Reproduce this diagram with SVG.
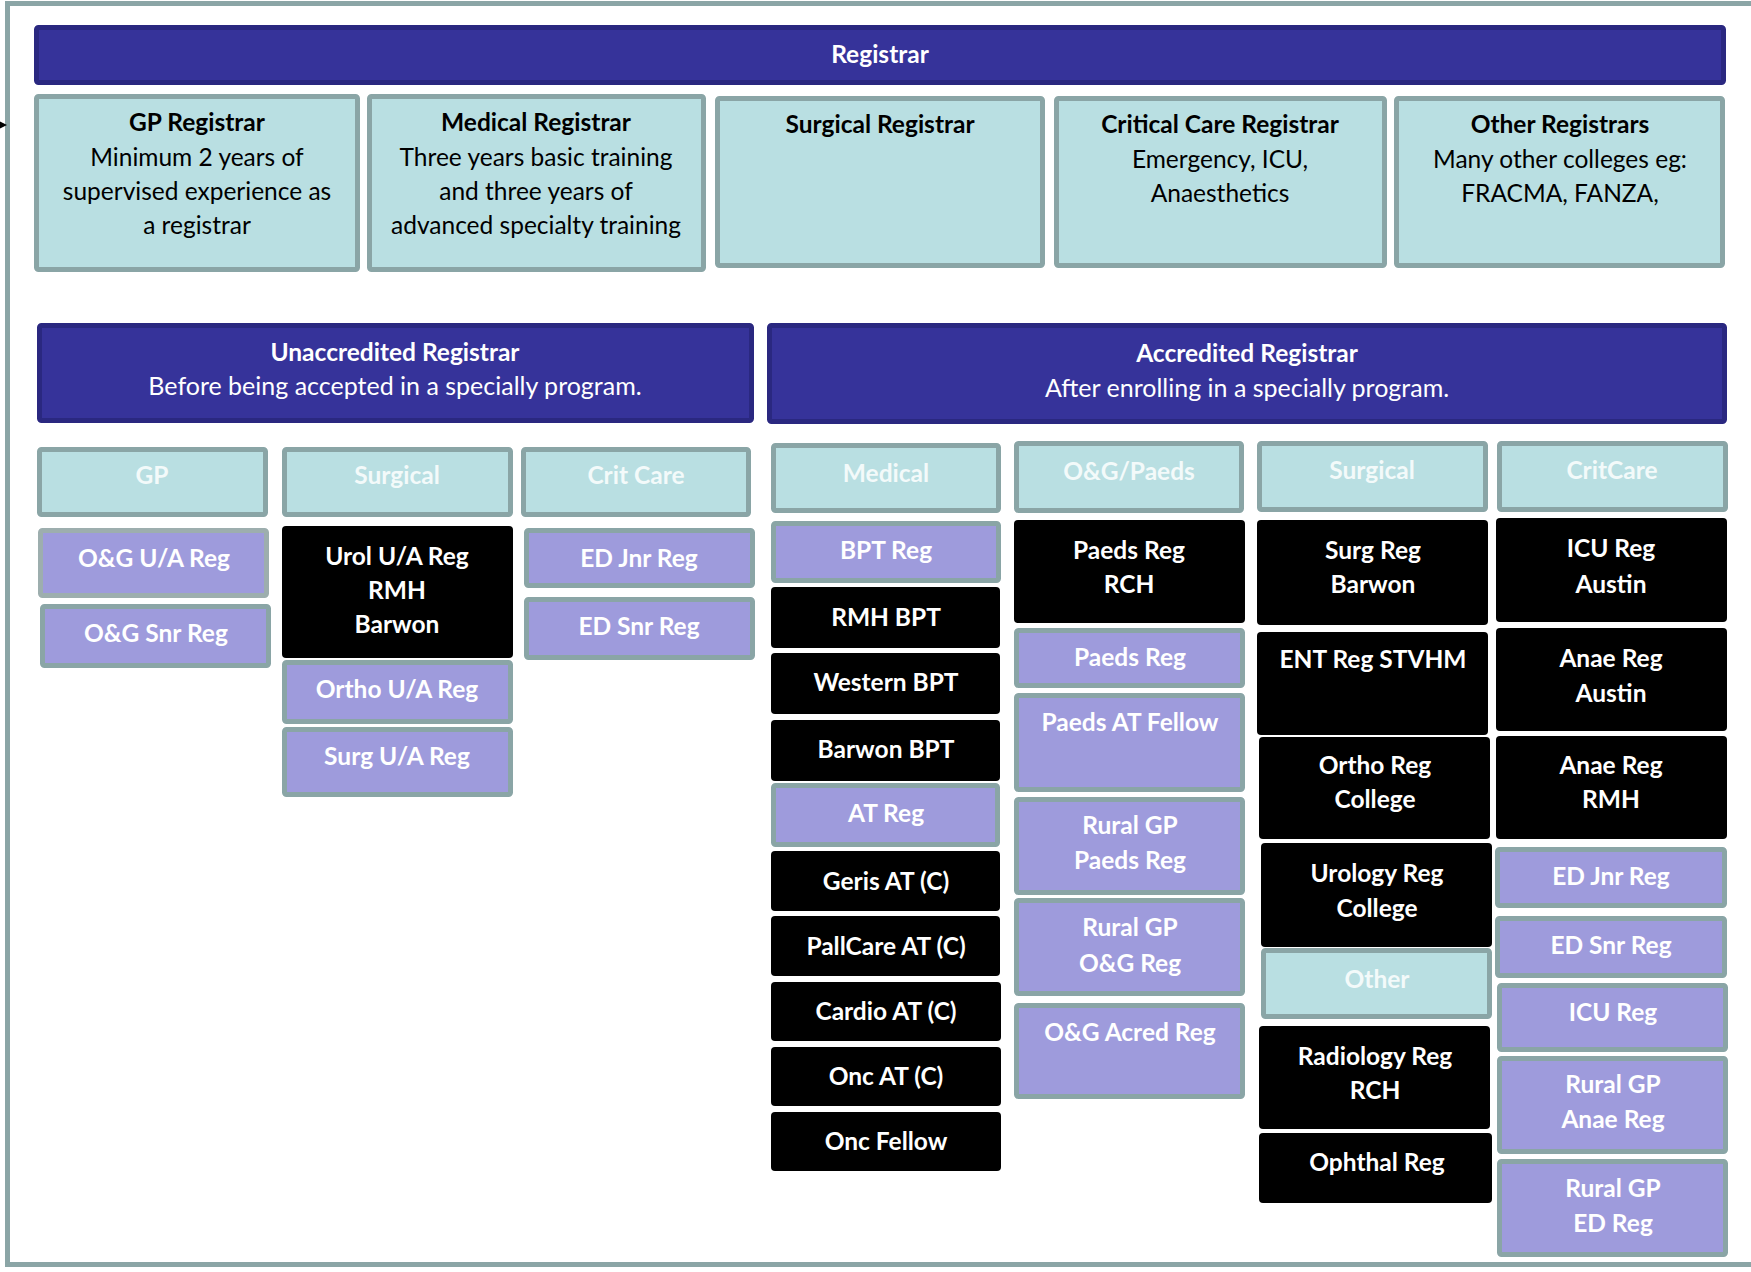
<svg xmlns="http://www.w3.org/2000/svg" width="1751" height="1272" viewBox="0 0 1751 1272">
<style>
.navy{fill:#36339A;stroke:#2A2880;stroke-width:5}
.teal{fill:#B9DFE2;stroke:#8AA5A6;stroke-width:5}
.purp{fill:#9E9BDC;stroke:#8AA5A6;stroke-width:5}
.purpg{fill:#9E9BDC;stroke:#9DAEAE;stroke-width:5}
.blk{fill:#000000}
text{font-family:Lato,"Open Sans","Liberation Sans",sans-serif;text-anchor:middle}
.tt{font-size:24.5px;font-weight:bold;fill:#000}
.tb{font-size:24.5px;fill:#000}
.wt{font-size:24.5px;font-weight:bold;fill:#fff}
.wb{font-size:25px;fill:#fff}
.n{font-size:24.5px;font-weight:bold;fill:#fff}
.h{font-size:24.5px;font-weight:bold;fill:#F3FAFA}
</style>
<rect x="7.5" y="3.5" width="1760" height="1261" fill="#fff" stroke="#8BA5A6" stroke-width="5"/>
<g id="connectors">
<polygon points="0,121.5 7,125 0,128.5" fill="#000"/>
</g>

<g id="registrar"><rect class="navy" x="36.5" y="27.5" width="1687" height="55" rx="2"/><text class="wt" x="880" y="63">Registrar</text></g>

<g id="gp-registrar"><rect class="teal" x="36.5" y="96.5" width="321" height="173" rx="2"/>
<text class="tt" x="197" y="131">GP Registrar</text>
<text class="tb" x="197" y="166">Minimum 2 years of</text>
<text class="tb" x="197" y="200">supervised experience as</text>
<text class="tb" x="197" y="234">a registrar</text></g>
<g id="medical-registrar"><rect class="teal" x="369.5" y="96.5" width="334" height="173" rx="2"/>
<text class="tt" x="536" y="131">Medical Registrar</text>
<text class="tb" x="536" y="166">Three years basic training</text>
<text class="tb" x="536" y="200">and three years of</text>
<text class="tb" x="536" y="234">advanced specialty training</text></g>
<g id="surgical-registrar"><rect class="teal" x="717.5" y="98.5" width="325" height="167" rx="2"/>
<text class="tt" x="880" y="133">Surgical Registrar</text></g>
<g id="critical-care-registrar"><rect class="teal" x="1056.5" y="98.5" width="328" height="167" rx="2"/>
<text class="tt" x="1220" y="133">Critical Care Registrar</text>
<text class="tb" x="1220" y="168">Emergency, ICU,</text>
<text class="tb" x="1220" y="202">Anaesthetics</text></g>
<g id="other-registrars"><rect class="teal" x="1396.5" y="98.5" width="326" height="167" rx="2"/>
<text class="tt" x="1560" y="133">Other Registrars</text>
<text class="tb" x="1560" y="168">Many other colleges eg:</text>
<text class="tb" x="1560" y="202">FRACMA, FANZA,</text></g>

<g id="unaccredited"><rect class="navy" x="39.5" y="325.5" width="712" height="95" rx="2"/>
<text class="wt" x="395" y="361">Unaccredited Registrar</text>
<text class="wb" x="395" y="395">Before being accepted in a specially program.</text></g>
<g id="accredited"><rect class="navy" x="769.5" y="325.5" width="955" height="96" rx="2"/>
<text class="wt" x="1247" y="362">Accredited Registrar</text>
<text class="wb" x="1247" y="397">After enrolling in a specially program.</text></g>

<g id="ua-gp"><rect class="teal" x="39.5" y="449.5" width="226" height="65" rx="2"/><text class="h" x="152" y="484">GP</text></g>
<g id="ua-surgical"><rect class="teal" x="284.5" y="449.5" width="226" height="65" rx="2"/><text class="h" x="397" y="484">Surgical</text></g>
<g id="ua-critcare"><rect class="teal" x="523.5" y="449.5" width="225" height="65" rx="2"/><text class="h" x="636" y="484">Crit Care</text></g>

<g id="og-ua-reg"><rect class="purpg" x="40.5" y="530.5" width="226" height="65" rx="2"/><text class="n" x="154" y="567">O&amp;G U/A Reg</text></g>
<g id="og-snr-reg"><rect class="purp" x="42.5" y="606.5" width="226" height="59" rx="2"/><text class="n" x="156" y="642">O&amp;G Snr Reg</text></g>
<g id="urol-ua-reg"><rect class="blk" x="282" y="526" width="231" height="132" rx="4"/>
<text class="n" x="397" y="565">Urol U/A Reg</text><text class="n" x="397" y="599">RMH</text><text class="n" x="397" y="633">Barwon</text></g>
<g id="ortho-ua-reg"><rect class="purp" x="284.5" y="662.5" width="226" height="59" rx="2"/><text class="n" x="397" y="698">Ortho U/A Reg</text></g>
<g id="surg-ua-reg"><rect class="purp" x="284.5" y="729.5" width="226" height="65" rx="2"/><text class="n" x="397" y="765">Surg U/A Reg</text></g>
<g id="ua-ed-jnr-reg"><rect class="purp" x="526.5" y="530.5" width="226" height="55" rx="2"/><text class="n" x="639" y="567">ED Jnr Reg</text></g>
<g id="ua-ed-snr-reg"><rect class="purp" x="526.5" y="599.5" width="226" height="58" rx="2"/><text class="n" x="639" y="635">ED Snr Reg</text></g>

<g id="a-medical"><rect class="teal" x="773.5" y="445.5" width="225" height="65" rx="2"/><text class="h" x="886" y="482">Medical</text></g>
<g id="a-og-paeds"><rect class="teal" x="1016.5" y="443.5" width="225" height="67" rx="2"/><text class="h" x="1129" y="480">O&amp;G/Paeds</text></g>
<g id="a-surgical"><rect class="teal" x="1259.5" y="443.5" width="226" height="66" rx="2"/><text class="h" x="1372" y="479">Surgical</text></g>
<g id="a-critcare"><rect class="teal" x="1499.5" y="443.5" width="226" height="66" rx="2"/><text class="h" x="1612" y="479">CritCare</text></g>

<g id="bpt-reg"><rect class="purp" x="773.5" y="523.5" width="225" height="57" rx="2"/><text class="n" x="886" y="559">BPT Reg</text></g>
<g id="rmh-bpt"><rect class="blk" x="771" y="587" width="229" height="61" rx="4"/><text class="n" x="886" y="626">RMH BPT</text></g>
<g id="western-bpt"><rect class="blk" x="771" y="653" width="229" height="61" rx="4"/><text class="n" x="886" y="691">Western BPT</text></g>
<g id="barwon-bpt"><rect class="blk" x="771" y="720" width="229" height="61" rx="4"/><text class="n" x="886" y="758">Barwon BPT</text></g>
<g id="at-reg"><rect class="purp" x="773.5" y="785.5" width="224" height="59" rx="2"/><text class="n" x="886" y="822">AT Reg</text></g>
<g id="geris-at"><rect class="blk" x="771" y="851" width="229" height="60" rx="4"/><text class="n" x="886" y="890">Geris AT (C)</text></g>
<g id="pallcare-at"><rect class="blk" x="771" y="916" width="229" height="60" rx="4"/><text class="n" x="886" y="955">PallCare AT (C)</text></g>
<g id="cardio-at"><rect class="blk" x="771" y="982" width="230" height="59" rx="4"/><text class="n" x="886" y="1020">Cardio AT (C)</text></g>
<g id="onc-at"><rect class="blk" x="771" y="1047" width="230" height="59" rx="4"/><text class="n" x="886" y="1085">Onc AT (C)</text></g>
<g id="onc-fellow"><rect class="blk" x="771" y="1112" width="230" height="59" rx="4"/><text class="n" x="886" y="1150">Onc Fellow</text></g>

<g id="paeds-reg-rch"><rect class="blk" x="1014" y="520" width="231" height="103" rx="4"/>
<text class="n" x="1129" y="559">Paeds Reg</text><text class="n" x="1129" y="593">RCH</text></g>
<g id="paeds-reg"><rect class="purp" x="1016.5" y="630.5" width="226" height="55" rx="2"/><text class="n" x="1130" y="666">Paeds Reg</text></g>
<g id="paeds-at-fellow"><rect class="purp" x="1016.5" y="695.5" width="226" height="94" rx="2"/><text class="n" x="1130" y="731">Paeds AT Fellow</text></g>
<g id="rural-gp-paeds-reg"><rect class="purp" x="1016.5" y="799.5" width="226" height="93" rx="2"/>
<text class="n" x="1130" y="834">Rural GP</text><text class="n" x="1130" y="869">Paeds Reg</text></g>
<g id="rural-gp-og-reg"><rect class="purp" x="1016.5" y="900.5" width="226" height="93" rx="2"/>
<text class="n" x="1130" y="936">Rural GP</text><text class="n" x="1130" y="972">O&amp;G Reg</text></g>
<g id="og-acred-reg"><rect class="purp" x="1016.5" y="1005.5" width="226" height="91" rx="2"/><text class="n" x="1130" y="1041">O&amp;G Acred Reg</text></g>

<g id="surg-reg-barwon"><rect class="blk" x="1257" y="520" width="231" height="105" rx="4"/>
<text class="n" x="1373" y="559">Surg Reg</text><text class="n" x="1373" y="593">Barwon</text></g>
<g id="ent-reg"><rect class="blk" x="1257" y="632" width="231" height="103" rx="4"/><text class="n" x="1373" y="668">ENT Reg STVHM</text></g>
<g id="ortho-reg-college"><rect class="blk" x="1259" y="737" width="231" height="102" rx="4"/>
<text class="n" x="1375" y="774">Ortho Reg</text><text class="n" x="1375" y="808">College</text></g>
<g id="urology-reg-college"><rect class="blk" x="1261" y="843" width="231" height="104" rx="4"/>
<text class="n" x="1377" y="882">Urology Reg</text><text class="n" x="1377" y="917">College</text></g>
<g id="a-other"><rect class="teal" x="1263.5" y="950.5" width="226" height="66" rx="2"/><text class="h" x="1377" y="988">Other</text></g>
<g id="radiology-reg-rch"><rect class="blk" x="1259" y="1026" width="231" height="103" rx="4"/>
<text class="n" x="1375" y="1065">Radiology Reg</text><text class="n" x="1375" y="1099">RCH</text></g>
<g id="ophthal-reg"><rect class="blk" x="1259" y="1133" width="233" height="70" rx="4"/><text class="n" x="1377" y="1171">Ophthal Reg</text></g>

<g id="icu-reg-austin"><rect class="blk" x="1496" y="518" width="231" height="104" rx="4"/>
<text class="n" x="1611" y="557">ICU Reg</text><text class="n" x="1611" y="593">Austin</text></g>
<g id="anae-reg-austin"><rect class="blk" x="1496" y="628" width="231" height="103" rx="4"/>
<text class="n" x="1611" y="667">Anae Reg</text><text class="n" x="1611" y="702">Austin</text></g>
<g id="anae-reg-rmh"><rect class="blk" x="1496" y="736" width="231" height="103" rx="4"/>
<text class="n" x="1611" y="774">Anae Reg</text><text class="n" x="1611" y="808">RMH</text></g>
<g id="cc-ed-jnr-reg"><rect class="purp" x="1497.5" y="849.5" width="227" height="56" rx="2"/><text class="n" x="1611" y="885">ED Jnr Reg</text></g>
<g id="cc-ed-snr-reg"><rect class="purp" x="1497.5" y="918.5" width="227" height="57" rx="2"/><text class="n" x="1611" y="954">ED Snr Reg</text></g>
<g id="cc-icu-reg"><rect class="purp" x="1499.5" y="985.5" width="226" height="64" rx="2"/><text class="n" x="1613" y="1021">ICU Reg</text></g>
<g id="rural-gp-anae-reg"><rect class="purp" x="1499.5" y="1058.5" width="226" height="93" rx="2"/>
<text class="n" x="1613" y="1093">Rural GP</text><text class="n" x="1613" y="1128">Anae Reg</text></g>
<g id="rural-gp-ed-reg"><rect class="purp" x="1499.5" y="1161.5" width="226" height="93" rx="2"/>
<text class="n" x="1613" y="1197">Rural GP</text><text class="n" x="1613" y="1232">ED Reg</text></g>
</svg>
